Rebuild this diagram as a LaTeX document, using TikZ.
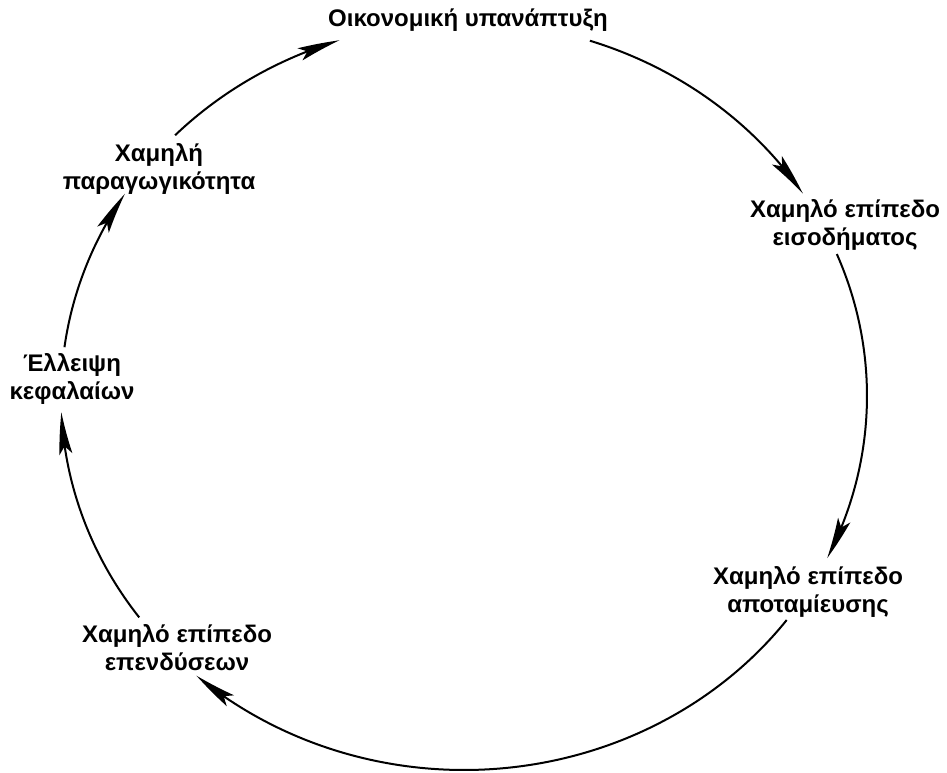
\documentclass[tikz,border=0pt]{standalone}
\usepackage{fontspec}
\setmainfont{Liberation Sans}
\usetikzlibrary{arrows.meta,bending,calc}
\begin{document}
\begin{tikzpicture}[x=1pt,y=1pt,
  lbl/.style={align=center,inner sep=0pt,font=\bfseries\fontsize{24}{28}\selectfont},
  cyc/.style={line width=2pt,black},
  arr/.style={cyc,-{Stealth[length=42pt,width=13pt,inset=8pt,bend]}}]
\useasboundingbox (0,0) rectangle (947,772);
\fill[white] (0,0) rectangle (947,772);
% labels
\node[lbl] (n1) at (468,752) {Οικονομική υπανάπτυξη};
\node[lbl] (n2) at (845,547) {Χαμηλό επίπεδο\\εισοδήματος};
\node[lbl] (n5) at (808,180) {Χαμηλό επίπεδο\\αποταμίευσης};
\node[lbl] (n6) at (177,124) {Χαμηλό επίπεδο\\επενδύσεων};
\node[lbl] (n4) at (72,393) {Έλλειψη\\κεφαλαίων};
\node[lbl] (n3) at (159,603) {Χαμηλή\\παραγωγικότητα};
% ellipse centre and arc end points
\coordinate (o) at (464,376);
\coordinate (a1) at ($(o)+(71.8:403 and 374)$);
\coordinate (b1) at ($(o)+(22.3:403 and 374)$);
\coordinate (c1) at ($(o)+(-36.8:403 and 374)$);
\coordinate (d1) at ($(o)+(-143.7:403 and 374)$);
\coordinate (e1) at ($(o)+(172.5:403 and 374)$);
\coordinate (f1) at ($(o)+(135.8:403 and 374)$);
% connectors
\draw[arr] (a1) arc[start angle=71.8, end angle=32.8, x radius=403, y radius=374];
\draw[arr] (b1) arc[start angle=22.3, end angle=-25.7, x radius=403, y radius=374];
\draw[arr] (c1) arc[start angle=-36.8, end angle=-131.6, x radius=403, y radius=374];
\draw[arr] (d1) arc[start angle=-143.7, end angle=-177.5, x radius=403, y radius=374];
\draw[arr] (e1) arc[start angle=172.5, end angle=147.3, x radius=403, y radius=374];
\draw[arr] (f1) arc[start angle=135.8, end angle=108, x radius=403, y radius=374];
\end{tikzpicture}
\end{document}
